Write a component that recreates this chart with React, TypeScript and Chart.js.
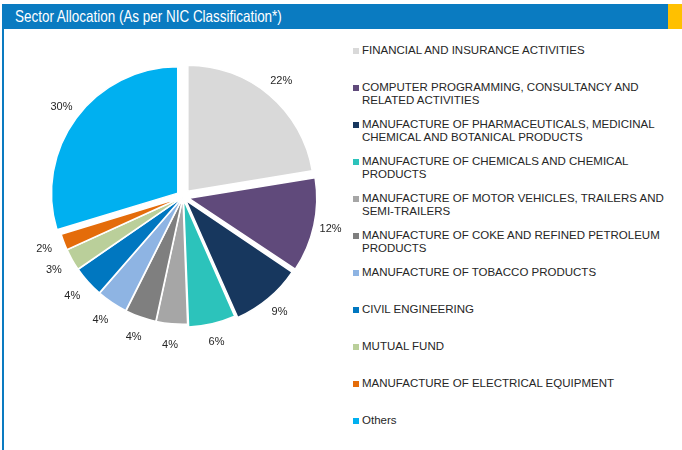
import React, { useEffect, useRef } from "react";
import { Chart, registerables } from "chart.js";

Chart.register(...registerables);

const categories = [
  "FINANCIAL AND INSURANCE ACTIVITIES",
  "COMPUTER PROGRAMMING, CONSULTANCY AND RELATED ACTIVITIES",
  "MANUFACTURE OF PHARMACEUTICALS, MEDICINAL CHEMICAL AND BOTANICAL PRODUCTS",
  "MANUFACTURE OF CHEMICALS AND CHEMICAL PRODUCTS",
  "MANUFACTURE OF MOTOR VEHICLES, TRAILERS AND SEMI-TRAILERS",
  "MANUFACTURE OF COKE AND REFINED PETROLEUM PRODUCTS",
  "MANUFACTURE OF TOBACCO PRODUCTS",
  "CIVIL ENGINEERING",
  "MUTUAL FUND",
  "MANUFACTURE OF ELECTRICAL EQUIPMENT",
  "Others",
];

const allocation = [22.4, 12.0, 9.0, 6.0, 4.0, 4.0, 4.0, 4.0, 2.8, 2.1, 29.7];

const sliceColors = [
  "#D9D9D9",
  "#604A7B",
  "#17375E",
  "#2CC3BB",
  "#A6A6A6",
  "#7F7F7F",
  "#8EB4E3",
  "#0077C0",
  "#BACF9A",
  "#E46C0A",
  "#00B0F0",
];

// Chart.js draws an arc's offset at a quarter of the option value
const sliceOffsets = [30, 24, 18, 10, 3, 3, 3, 3, 3, 3, 26];

const TITLE = "Sector Allocation (As per NIC Classification*)";

const labelPlugin = {
  id: "outsideLabels",
  afterDatasetsDraw(chart: any) {
    const ctx = chart.ctx;
    const meta = chart.getDatasetMeta(0);
    const ds = chart.data.datasets[0];
    const data = ds.data as number[];
    const offs = ds.offset as number[];
    ctx.save();
    ctx.font = "11px 'Liberation Sans', Arial, sans-serif";
    ctx.fillStyle = "#262626";
    ctx.textAlign = "center";
    ctx.textBaseline = "middle";
    meta.data.forEach((arc: any, i: number) => {
      const p = arc.getProps(["x", "y", "startAngle", "endAngle", "outerRadius"], true);
      const mid = (p.startAngle + p.endAngle) / 2;
      const r = p.outerRadius + 22 + (offs[i] / 4) * 0.5;
      ctx.fillText(
        `${Math.round(data[i])}%`,
        p.x + Math.cos(mid) * r,
        p.y + Math.sin(mid) * r
      );
    });
    ctx.restore();
  },
};

export default function App() {
  const canvasRef = useRef<HTMLCanvasElement | null>(null);

  useEffect(() => {
    if (!canvasRef.current) return;
    const chart = new Chart(canvasRef.current, {
      type: "pie",
      data: {
        labels: categories,
        datasets: [
          {
            data: allocation,
            backgroundColor: sliceColors,
            borderColor: "#FFFFFF",
            borderWidth: 1.5,
            offset: sliceOffsets,
            hoverOffset: 0,
          },
        ],
      },
      options: {
        responsive: false,
        animation: false,
        radius: 126,
        layout: { padding: 0 },
        plugins: {
          legend: { display: false },
          tooltip: { enabled: false },
        },
      },
      plugins: [labelPlugin],
    });
    return () => chart.destroy();
  }, []);

  return (
    <div
      style={{
        position: "absolute",
        left: 0,
        top: 0,
        width: 682,
        height: 450,
        background: "#FFFFFF",
        overflow: "hidden",
        fontFamily: "'Liberation Sans', Arial, sans-serif",
      }}
    >
      <div
        style={{
          position: "absolute",
          left: 2,
          top: 4,
          width: 666,
          height: 25,
          background: "#0A7BC1",
        }}
      />
      <div
        style={{
          position: "absolute",
          left: 668,
          top: 4,
          width: 14,
          height: 25,
          background: "#FFC000",
        }}
      />
      <div
        style={{
          position: "absolute",
          left: 15,
          top: 4,
          height: 25,
          lineHeight: "25px",
          color: "#FFFFFF",
          fontFamily: "'Liberation Sans Narrow', 'Arial Narrow', 'Liberation Sans', Arial, sans-serif",
          fontSize: 16.5,
          whiteSpace: "nowrap",
          transform: "scaleX(0.815)",
          transformOrigin: "left center",
        }}
      >
        {TITLE}
      </div>
      <div
        style={{
          position: "absolute",
          left: 2,
          top: 29,
          width: 2,
          height: 421,
          background: "#0A7BC1",
        }}
      />
      <div style={{ position: "absolute", left: 13, top: 27, width: 340, height: 340 }}>
        <canvas ref={canvasRef} width={340} height={340} style={{ display: "block" }} />
      </div>
      <div style={{ position: "absolute", left: 353, top: 44 }}>
        {categories.map((c, i) => (
          <div key={c} style={{ position: "relative", height: 37 }}>
            <div
              style={{
                position: "absolute",
                left: 0,
                top: 3.5,
                width: 6,
                height: 6,
                background: sliceColors[i],
              }}
            />
            <div
              style={{
                position: "absolute",
                left: 9,
                top: 0,
                width: 310,
                fontSize: 11.5,
                lineHeight: "13px",
                color: "#262626",
              }}
            >
              {c}
            </div>
          </div>
        ))}
      </div>
    </div>
  );
}
